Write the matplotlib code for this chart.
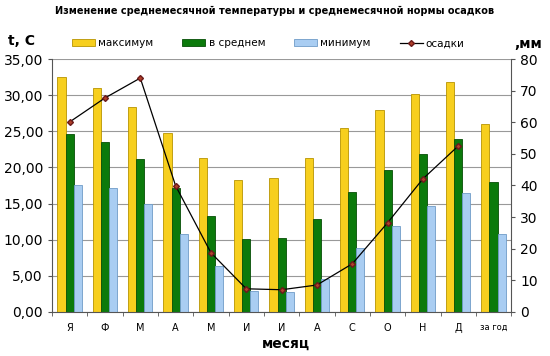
import matplotlib.pyplot as plt
import numpy as np
from matplotlib.ticker import FuncFormatter, MultipleLocator

months = ['Я', 'Ф', 'М', 'А', 'М', 'И', 'И', 'А', 'С', 'О', 'Н', 'Д', 'за год']
t_max = [32.5, 31.0, 28.4, 24.8, 21.3, 18.2, 18.6, 21.3, 25.5, 27.9, 30.1, 31.8, 26.0]
t_avg = [24.6, 23.5, 21.2, 17.2, 13.3, 10.1, 10.2, 12.8, 16.6, 19.6, 21.8, 23.9, 18.0]
t_min = [17.6, 17.1, 15.0, 10.8, 6.4, 2.9, 2.7, 4.5, 8.8, 11.9, 14.7, 16.4, 10.8]
precip = [60.1, 67.7, 74.0, 39.9, 18.7, 7.3, 7.0, 8.5, 15.2, 28.2, 42.1, 52.5]

fig = plt.figure(figsize=(5.5, 3.56), dpi=100)
ax = fig.add_axes([0.0945, 0.124, 0.835, 0.71])
x = np.arange(len(months))
w = 0.23

ax.bar(x - w, t_max, w, color='#F7CF1E', edgecolor='#B89400', linewidth=0.6, label='максимум', zorder=2)
ax.bar(x, t_avg, w, color='#0B7A0B', edgecolor='#064F06', linewidth=0.6, label='в среднем', zorder=2)
ax.bar(x + w, t_min, w, color='#A9CDF2', edgecolor='#6F9CC8', linewidth=0.6, label='минимум', zorder=2)

ax.set_ylim(0, 35)
ax.set_xlim(-0.5, len(months) - 0.5)
ax.yaxis.set_major_locator(MultipleLocator(5))
ax.yaxis.set_major_formatter(FuncFormatter(lambda v, p: f'{v:.2f}'.replace('.', ',')))
ax.grid(axis='y', color='#999999', linewidth=0.8, zorder=0)
ax.set_axisbelow(True)
ax.set_xticks(x)
ax.set_xticklabels(months, fontsize=7)
ax.get_xticklabels()[-1].set_fontsize(6)
ax.set_xticks(np.arange(len(months) + 1) - 0.5, minor=True)
ax.tick_params(axis='x', which='major', length=0, pad=8)
ax.tick_params(axis='x', which='minor', length=3, color='#555555')
ax.tick_params(axis='y', labelsize=10, length=3, color='#555555')
for s in ['top', 'right']:
    ax.spines[s].set_visible(False)
ax.spines['left'].set_color('#555555')
ax.spines['bottom'].set_color('#555555')

ax2 = ax.twinx()
ax2.plot(x[:len(precip)], precip, color='black', linewidth=0.9, marker='D', markersize=3,
         markerfacecolor='#B0402A', markeredgecolor='#6A1A1A', label='осадки', zorder=3)
ax2.set_ylim(0, 80)
ax2.yaxis.set_major_locator(MultipleLocator(10))
ax2.tick_params(axis='y', labelsize=10, length=3, color='#555555')
for s in ['top', 'left', 'bottom']:
    ax2.spines[s].set_visible(False)
ax2.spines['right'].set_color('#555555')

h1, l1 = ax.get_legend_handles_labels()
h2, l2 = ax2.get_legend_handles_labels()
fig.legend(h1 + h2, l1 + l2, loc='center', bbox_to_anchor=(0.488, 0.878), ncol=4,
           frameon=False, fontsize=7.5, handlelength=2.2, handleheight=0.6,
           columnspacing=2.8, handletextpad=0.3)

fig.text(0.5, 0.968, 'Изменение среднемесячной температуры и среднемесячной нормы осадков',
         ha='center', va='center', fontsize=7.0, fontweight='bold')
fig.text(0.04, 0.885, 't, C', ha='center', va='center', fontsize=10, fontweight='bold')
fig.text(0.96, 0.876, ',мм', ha='center', va='center', fontsize=10, fontweight='bold')
fig.text(0.52, 0.035, 'месяц', ha='center', va='center', fontsize=10, fontweight='bold')

fig.savefig('out.png', dpi=100)
